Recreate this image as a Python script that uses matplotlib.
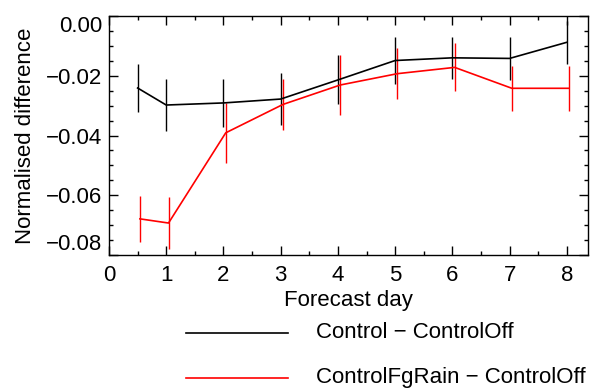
import matplotlib
matplotlib.use("Agg")
import matplotlib.pyplot as plt
from matplotlib.lines import Line2D
from matplotlib.ticker import MultipleLocator

plt.rcParams['font.family'] = ['Liberation Sans', 'DejaVu Sans']

days = [0.5, 1, 2, 3, 4, 5, 6, 7, 8]
ctrl = [-0.0241, -0.0298, -0.0291, -0.0278, -0.0214, -0.0149, -0.0140, -0.0142, -0.0088]
ctrl_err = [0.0081, 0.0087, 0.0079, 0.0088, 0.0082, 0.0080, 0.0071, 0.0072, 0.0071]
fgrain = [-0.0679, -0.0693, -0.0391, -0.0296, -0.0231, -0.0193, -0.0172, -0.0242, -0.0242]
fgrain_err = [0.0077, 0.0087, 0.0101, 0.0086, 0.0100, 0.0086, 0.0080, 0.0076, 0.0076]
offset = 0.04
yticks = [0.0, -0.02, -0.04, -0.06, -0.08]
yticklabels = ["0.00", "\u22120.02", "\u22120.04", "\u22120.06", "\u22120.08"]
labels = ["Control \u2212 ControlOff", "ControlFgRain \u2212 ControlOff"]

FS = 16
fig = plt.figure(figsize=(5.91, 3.92), dpi=100)
W, H = 591, 392
ax = fig.add_axes([109 / W, 1 - 255 / H, (588 - 109) / W, (255 - 16) / H])

ax.errorbar(days, ctrl, yerr=ctrl_err, color='black', lw=1.2, elinewidth=1.0, capsize=0)
ax.errorbar([d + offset for d in days], fgrain, yerr=fgrain_err, color='red', lw=1.2,
            elinewidth=1.0, capsize=0)

ax.set_xlim(0, 8.37)
ax.set_ylim(-0.08, 0.0)
ax.xaxis.set_major_locator(MultipleLocator(1))
ax.xaxis.set_minor_locator(MultipleLocator(0.5))
ax.yaxis.set_minor_locator(MultipleLocator(0.005))
ax.set_yticks(yticks)
ax.set_yticklabels(yticklabels)
ax.tick_params(which='both', direction='in', top=True, right=True, labelsize=FS, width=1)
ax.tick_params(which='major', length=6.5)
ax.tick_params(which='minor', length=3.2)
ax.tick_params(axis='x', pad=7)
ax.tick_params(axis='y', pad=5)
for s in ax.spines.values():
    s.set_linewidth(1.0)
tl = ax.get_yticklabels()
tl[0].set_va('top')
tl[-1].set_va('bottom')

ax.set_xlabel("Forecast day", fontsize=FS, labelpad=3)
ax.set_ylabel("Normalised difference", fontsize=FS, labelpad=7)

# legend drawn below axes
for i, (lab, col) in enumerate(zip(labels, ['black', 'red'])):
    y = 1 - (332.7 + i * 45) / H
    fig.add_artist(Line2D([186 / W, 288 / W], [y, y], color=col, lw=1.2,
                          transform=fig.transFigure))
    fig.text(316 / W, y, lab, fontsize=FS, va='center', ha='left')

fig.savefig("out.png", dpi=100)
